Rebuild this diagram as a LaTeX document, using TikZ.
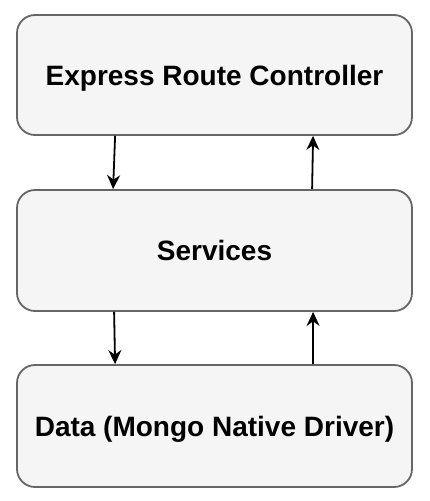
\documentclass[tikz,border=0pt]{standalone}
\usepackage{fontspec}
\setmainfont{Liberation Sans}
\usetikzlibrary{arrows.meta}

\tikzset{
  layerbox/.style={draw=black!60, fill=black!4, line width=1.8pt, rounded corners=18pt,
    minimum width=395pt, font=\fontsize{28}{32}\selectfont\bfseries, inner sep=0pt,
    text height=20pt, text depth=0pt},
  flow/.style={line width=1.8pt, -{Stealth[length=14pt,width=13pt]}}
}

\begin{document}
\begin{tikzpicture}[x=1pt, y=1pt]
  \useasboundingbox (0, 0) rectangle (429, -501);
  \node[layerbox, minimum height=120pt] (ctrl) at (214.5, -75.0) {Express Route Controller};
  \node[layerbox, minimum height=121pt] (svc) at (214.5, -250.5) {Services};
  \node[layerbox, minimum height=122pt] (data) at (214.5, -426.0) {Data (Mongo Native Driver)};
  \draw[flow] ([xshift=99pt]ctrl.south west) -- ([xshift=97pt]svc.north west);
  \draw[flow] ([xshift=296pt]svc.north west) -- ([xshift=297pt]ctrl.south west);
  \draw[flow] ([xshift=98pt]svc.south west) -- ([xshift=99pt]data.north west);
  \draw[flow] ([xshift=297pt]data.north west) -- ([xshift=297pt]svc.south west);
\end{tikzpicture}
\end{document}
